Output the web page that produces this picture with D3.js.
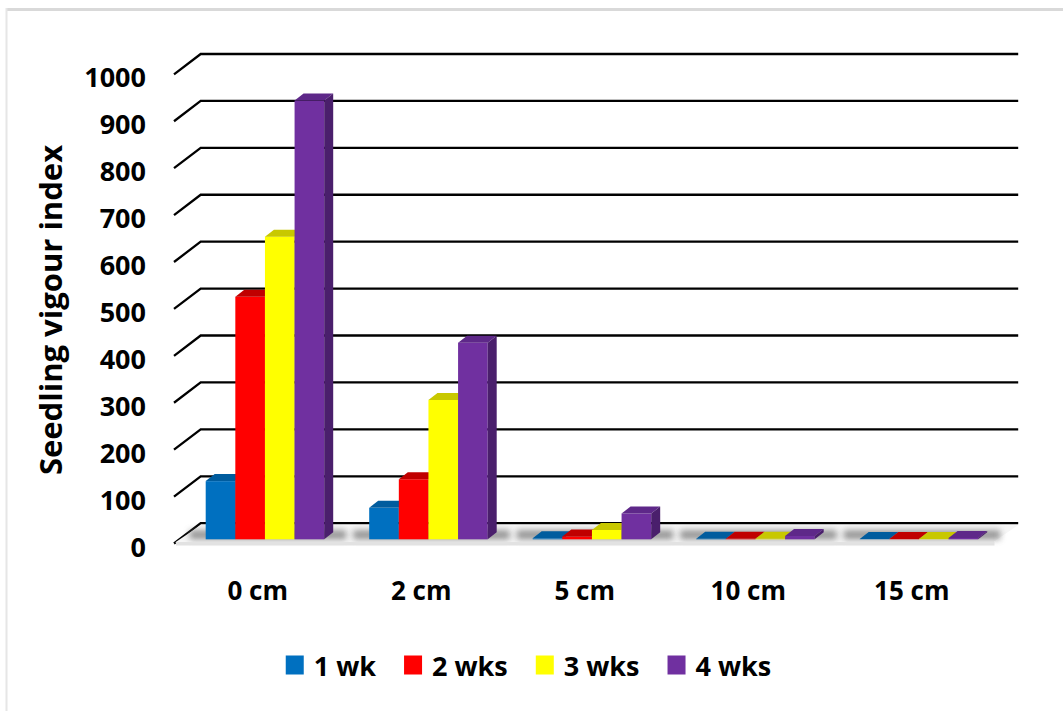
<!DOCTYPE html>
<html>
<head>
<meta charset="utf-8">
<script src="https://cdn.jsdelivr.net/npm/d3@7"></script>
<style>
  html, body { margin: 0; padding: 0; background: #fff; }
  svg { display: block; }
  text { font-family: "Open Sans", "Liberation Sans", sans-serif; font-weight: 700; fill: #000; }
</style>
</head>
<body>
<svg id="chart" width="1063" height="711"></svg>
<script>
// Seedling vigour index by sowing depth and weeks after sowing
const categories = ["0 cm", "2 cm", "5 cm", "10 cm", "15 cm"];
const seriesNames = ["1 wk", "2 wks", "3 wks", "4 wks"];
const week1 = [124, 67, 2, 1, 0.5];
const week2 = [517, 128, 6, 1, 0.5];
const week3 = [645, 297, 20, 1, 0.5];
const week4 = [935, 419, 55, 7, 3];
const yTickValues = [0, 100, 200, 300, 400, 500, 600, 700, 800, 900, 1000];

const seriesValues = [week1, week2, week3, week4];
const palette = [
  { front: "#0070C0", top: "#005C9E", side: "#004E86" },
  { front: "#FF0000", top: "#C00000", side: "#B00000" },
  { front: "#FFFF00", top: "#C8C800", side: "#B4B400" },
  { front: "#7030A0", top: "#5E2889", side: "#4A1F6C" }
];

const svg = d3.select("#chart");

// Frame around the chart area
svg.append("line").attr("x1", 6).attr("x2", 1063).attr("y1", 9.5).attr("y2", 9.5)
  .attr("stroke", "#d9d9d9").attr("stroke-width", 3);
svg.append("line").attr("x1", 6.5).attr("x2", 6.5).attr("y1", 8).attr("y2", 711)
  .attr("stroke", "#e6e6e6").attr("stroke-width", 2);

// Front plane of the 3D plot and its depth offset
const plotLeft = 174, plotRight = 991.5;
const depthX = 26.7, depthY = -20.3;
const barDepthX = 9, barDepthY = -7;
const barPlaneY = -4.2;

const y = d3.scaleLinear().domain([0, 1000]).range([543.5, 74.3]);
const x = d3.scaleBand().domain(categories).range([plotLeft, plotRight]);
const groupInset = 31.7;
const inner = d3.scaleBand().domain(seriesNames).range([0, 118.5]);

const defs = svg.append("defs");
defs.append("filter").attr("id", "soft").attr("x", "-20%").attr("y", "-100%")
  .attr("width", "140%").attr("height", "300%")
  .append("feGaussianBlur").attr("stdDeviation", 3.2);
defs.append("filter").attr("id", "haze").attr("x", "-5%").attr("y", "-200%")
  .attr("width", "110%").attr("height", "500%")
  .append("feGaussianBlur").attr("stdDeviation", 0.9);

// Gridlines: side wall diagonal + back wall horizontal
const grid = svg.append("g");
grid.selectAll("path.shadow").data(yTickValues).join("path")
  .attr("class", "shadow")
  .attr("d", t => `M${plotLeft + depthX},${y(t) + depthY + 2.4} L${plotRight + depthX},${y(t) + depthY + 2.4}`)
  .attr("stroke", "#9a9a9a").attr("stroke-width", 2).attr("fill", "none")
  .attr("opacity", 0.55).attr("filter", "url(#haze)");
grid.selectAll("path.line").data(yTickValues).join("path")
  .attr("class", "line")
  .attr("d", t => `M${plotLeft},${y(t)} L${plotLeft + depthX},${y(t) + depthY} L${plotRight + depthX},${y(t) + depthY}`)
  .attr("stroke", "#000").attr("stroke-width", 2.3).attr("fill", "none");

// Floor with soft shadows around each group of columns
const floor = svg.append("g");
const y0 = y(0);
floor.append("path")
  .attr("d", `M${plotLeft + 1},${y0 - 1} L${plotRight + 1},${y0 - 1} L${plotRight + depthX},${y0 + depthY + 2} L${plotLeft + depthX},${y0 + depthY + 2} Z`)
  .attr("fill", "#f6f6f6");
floor.selectAll("rect.shade").data(categories).join("rect")
  .attr("class", "shade")
  .attr("x", c => x(c) + groupInset - 16)
  .attr("width", inner.range()[1] + 38)
  .attr("y", y0 + barPlaneY - 9)
  .attr("height", 9)
  .attr("fill", "#6a6a6a").attr("opacity", 0.7)
  .attr("filter", "url(#soft)");
floor.append("rect")
  .attr("x", plotLeft + 2).attr("width", plotRight - plotLeft + 1)
  .attr("y", y0 - 1.5).attr("height", 3.5)
  .attr("fill", "#e2e2e2");

// Columns, painted left to right so each hides its neighbour's side face
const bars = [];
categories.forEach((c, ci) => {
  seriesNames.forEach((s, si) => {
    bars.push({ cat: c, series: s, si, value: seriesValues[si][ci] });
  });
});
const barW = inner.bandwidth();
const barG = svg.append("g");
bars.forEach(b => {
  const xl = x(b.cat) + groupInset + inner(b.series);
  const xr = xl + barW;
  const yt = y(b.value) + barPlaneY;
  const yb = y(0) + barPlaneY;
  const col = palette[b.si];
  const g = barG.append("g");
  g.append("rect").attr("x", xl).attr("y", yt).attr("width", barW).attr("height", yb - yt)
    .attr("fill", col.front);
  g.append("path")
    .attr("d", `M${xl},${yt} L${xr},${yt} L${xr + barDepthX},${yt + barDepthY} L${xl + barDepthX},${yt + barDepthY} Z`)
    .attr("fill", col.top);
  g.append("path")
    .attr("d", `M${xr},${yt} L${xr + barDepthX},${yt + barDepthY} L${xr + barDepthX},${yb + barDepthY} L${xr},${yb} Z`)
    .attr("fill", col.side);
});

// Value axis labels
svg.append("g").selectAll("text").data(yTickValues).join("text")
  .attr("x", 146).attr("y", t => y(t) + 2.5)
  .attr("text-anchor", "end").attr("dominant-baseline", "central")
  .attr("font-size", 27).text(t => t);

// Category labels
svg.append("g").selectAll("text").data(categories).join("text")
  .attr("x", c => x(c) + x.bandwidth() / 2 + 2)
  .attr("y", 590)
  .attr("text-anchor", "middle").attr("dominant-baseline", "central")
  .attr("font-size", 26).text(c => c);

// Axis title
svg.append("text")
  .attr("transform", "translate(50,310) rotate(-90)")
  .attr("text-anchor", "middle").attr("dominant-baseline", "central")
  .attr("font-size", 31).text("Seedling vigour index");

// Legend
const legend = svg.append("g");
const items = legend.selectAll("g").data(seriesNames).join("g");
items.append("rect").attr("width", 18).attr("height", 19).attr("y", 655.5)
  .attr("fill", (d, i) => palette[i].front);
items.append("text").attr("x", 28).attr("y", 665.5)
  .attr("dominant-baseline", "central").attr("font-size", 27).text(d => d);
let cursor = 0;
const offsets = [];
items.each(function () {
  offsets.push(cursor);
  const w = this.querySelector("text").getComputedTextLength();
  cursor += 28 + w + 28;
});
const total = cursor - 28;
const startX = 528.5 - total / 2;
items.attr("transform", (d, i) => `translate(${startX + offsets[i]},0)`);
</script>
</body>
</html>
